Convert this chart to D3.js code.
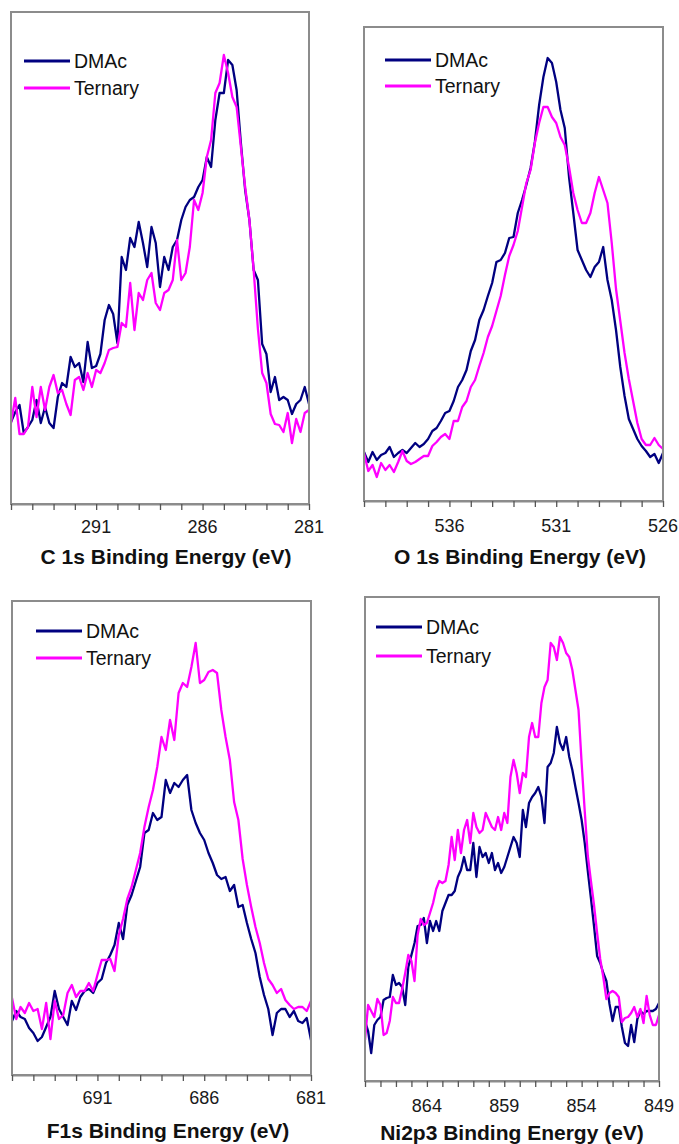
<!DOCTYPE html>
<html>
<head>
<meta charset="utf-8">
<script src="https://cdn.jsdelivr.net/npm/d3@7"></script>
<style>
html, body { margin: 0; padding: 0; background: #ffffff; }
svg { display: block; }
</style>
</head>
<body>
<svg id="chart" width="679" height="1144"></svg>
<script>
// ---------------- DATA ----------------
const seriesNames = ["DMAc", "Ternary"];
const seriesColors = ["#000080", "#ff00ff"];
const stepEV = 0.2; // binding-energy step of the scans (eV)

// C 1s  (295 -> 281 eV)
const c1sStartEV = 295, c1sEndEV = 281;
const c1sTickLabels = [291, 286, 281];
const c1sDMAc = [82, 92, 99, 71, 77, 84, 104, 81, 97, 81,
  76, 107, 121, 117, 147, 137, 141, 122, 162, 136,
  138, 150, 184, 199, 190, 161, 247, 234, 266, 257,
  282, 261, 237, 277, 261, 217, 247, 234, 257, 264,
  284, 297, 304, 307, 317, 324, 347, 337, 384, 411,
  411, 444, 439, 414, 361, 314, 284, 234, 224, 160,
  150, 112, 127, 104, 107, 104, 90, 100, 104, 117, 100];
const c1sTernary = [81, 106, 70, 70, 77, 117, 87, 117, 94, 117,
  129, 111, 114, 100, 89, 124, 127, 114, 131, 117,
  134, 131, 141, 154, 156, 157, 181, 177, 221, 174,
  211, 204, 224, 231, 201, 194, 211, 214, 224, 264,
  224, 231, 257, 304, 294, 311, 347, 364, 411, 421,
  449, 431, 407, 397, 357, 317, 284, 234, 175, 131,
  121, 90, 80, 79, 72, 91, 61, 85, 72, 91, 94];

// O 1s  (540 -> 526 eV)
const o1sStartEV = 540, o1sEndEV = 526;
const o1sTickLabels = [536, 531, 526];
const o1sDMAc = [49, 39, 49, 41, 46, 48, 54, 44, 48, 51,
  48, 53, 58, 54, 57, 62, 70, 73, 80, 88,
  90, 100, 114, 121, 131, 150, 161, 181, 191, 205,
  218, 239, 241, 248, 263, 264, 288, 301, 316, 333,
  359, 396, 424, 443, 438, 419, 391, 373, 324, 288,
  251, 241, 231, 224, 234, 239, 254, 221, 201, 171,
  134, 105, 82, 72, 62, 55, 50, 44, 47, 38, 48];
const o1sTernary = [48, 30, 36, 24, 38, 31, 36, 29, 39, 50,
  40, 37, 39, 42, 45, 45, 55, 59, 64, 67,
  62, 80, 80, 94, 100, 114, 121, 135, 148, 164,
  175, 190, 205, 226, 245, 256, 270, 294, 318, 331,
  358, 378, 394, 394, 384, 378, 364, 356, 334, 308,
  291, 278, 278, 288, 308, 324, 311, 298, 258, 212,
  180, 148, 122, 100, 78, 62, 56, 56, 63, 56, 52];

// F 1s  (695 -> 681 eV)
const f1sStartEV = 695, f1sEndEV = 681;
const f1sTickLabels = [691, 686, 681];
const f1sDMAc = [54, 64, 58, 56, 47, 42, 34, 38, 48, 58,
  84, 66, 58, 50, 74, 65, 78, 84, 86, 82,
  92, 96, 112, 120, 130, 152, 136, 170, 180, 194,
  208, 242, 245, 262, 255, 258, 295, 282, 292, 288,
  295, 300, 265, 252, 242, 235, 222, 212, 200, 196,
  198, 184, 190, 168, 170, 152, 136, 122, 98, 80,
  66, 40, 62, 66, 66, 58, 64, 54, 52, 57, 35];
const f1sTernary = [77, 56, 68, 62, 72, 64, 66, 46, 72, 36,
  74, 56, 60, 82, 90, 78, 84, 84, 92, 84,
  100, 115, 115, 116, 104, 140, 156, 176, 188, 205,
  222, 248, 268, 285, 308, 338, 325, 355, 335, 382,
  392, 388, 408, 432, 392, 395, 403, 405, 402, 365,
  338, 315, 273, 255, 216, 190, 168, 148, 132, 112,
  96, 90, 82, 86, 75, 70, 66, 68, 68, 64, 74];

// Ni 2p3  (868 -> 849 eV)
const ni2pStartEV = 868, ni2pEndEV = 849;
const ni2pTickLabels = [864, 859, 854, 849];
const ni2pDMAc = [60, 50, 28, 56, 61, 64, 81, 83, 84, 106,
  96, 98, 94, 76, 114, 126, 138, 155, 156, 163,
  138, 160, 150, 160, 150, 170, 178, 186, 186, 190,
  204, 211, 224, 211, 211, 238, 204, 234, 224, 228,
  218, 228, 211, 218, 208, 214, 224, 234, 244, 238,
  224, 271, 254, 278, 284, 288, 294, 284, 258, 314,
  318, 328, 354, 338, 331, 344, 324, 311, 294, 278,
  261, 238, 210, 183, 155, 125, 118, 108, 100, 77,
  60, 74, 74, 54, 38, 35, 56, 39, 62, 70,
  67, 70, 70, 70, 72, 78];
const ni2pTernary = [41, 76, 70, 64, 82, 76, 46, 48, 60, 84,
  78, 78, 92, 108, 126, 120, 100, 146, 162, 156,
  158, 168, 178, 192, 200, 198, 200, 216, 244, 221,
  251, 228, 251, 261, 238, 268, 254, 248, 251, 268,
  261, 254, 251, 264, 251, 268, 258, 304, 321, 308,
  288, 308, 304, 344, 358, 344, 344, 378, 394, 401,
  438, 434, 421, 444, 438, 428, 424, 411, 391, 371,
  318, 270, 225, 200, 176, 148, 122, 104, 82, 88,
  90, 88, 84, 59, 63, 64, 68, 74, 64, 72,
  58, 85, 66, 56, 56, 66];

// ---------------- LAYOUT ----------------
const panels = [
  { title: "C 1s Binding Energy (eV)", start: c1sStartEV, end: c1sEndEV, labels: c1sTickLabels,
    series: [c1sDMAc, c1sTernary], yMax: 492,
    box: { l: 11, t: 12, r: 309, b: 504 }, legend: { x: 24, y: 61, gap: 27 },
    titleX: 166, titleY: 564, labelY: 533 },
  { title: "O 1s Binding Energy (eV)", start: o1sStartEV, end: o1sEndEV, labels: o1sTickLabels,
    series: [o1sDMAc, o1sTernary], yMax: 474,
    box: { l: 364, t: 27, r: 663, b: 501 }, legend: { x: 385, y: 60, gap: 26 },
    titleX: 520, titleY: 564, labelY: 532 },
  { title: "F1s Binding Energy (eV)", start: f1sStartEV, end: f1sEndEV, labels: f1sTickLabels,
    series: [f1sDMAc, f1sTernary], yMax: 474,
    box: { l: 12, t: 601, r: 311, b: 1075 }, legend: { x: 36, y: 631, gap: 27 },
    titleX: 168, titleY: 1138, labelY: 1104 },
  { title: "Ni2p3 Binding Energy (eV)", start: ni2pStartEV, end: ni2pEndEV, labels: ni2pTickLabels,
    series: [ni2pDMAc, ni2pTernary], yMax: 484,
    box: { l: 365, t: 597, r: 659, b: 1081 }, legend: { x: 376, y: 627, gap: 29 },
    titleX: 512, titleY: 1140, labelY: 1112 }
];

const FONT = "'Liberation Sans', Arial, Helvetica, sans-serif";
const frameColor = "#8c8c8c";
const svg = d3.select("#chart");
const defs = svg.append("defs");

panels.forEach((p, pi) => {
  const b = p.box;
  const x = d3.scaleLinear().domain([p.start, p.end]).range([b.l, b.r]);
  const y = d3.scaleLinear().domain([0, p.yMax]).range([b.b, b.t]);
  const g = svg.append("g").attr("class", "panel");

  const clipId = "clip" + pi;
  defs.append("clipPath").attr("id", clipId)
    .append("rect").attr("x", b.l).attr("y", b.t)
    .attr("width", b.r - b.l).attr("height", b.b - b.t);

  const line = d3.line().x(d => x(d.e)).y(d => y(d.v));
  p.series.forEach((vals, si) => {
    const data = vals.map((v, i) => ({ e: +(p.start - i * stepEV).toFixed(2), v }));
    g.append("path")
      .datum(data)
      .attr("clip-path", `url(#${clipId})`)
      .attr("fill", "none")
      .attr("stroke", seriesColors[si])
      .attr("stroke-width", 2.3)
      .attr("stroke-linejoin", "round")
      .attr("d", line);
  });

  // frame
  g.append("rect")
    .attr("x", b.l).attr("y", b.t)
    .attr("width", b.r - b.l).attr("height", b.b - b.t)
    .attr("fill", "none").attr("stroke", frameColor).attr("stroke-width", 2);

  // x axis with 1 eV ticks
  const tickVals = d3.range(p.end, p.start + 0.01, 1);
  const axis = d3.axisBottom(x).tickValues(tickVals).tickSize(6).tickSizeOuter(0).tickFormat("");
  const ag = g.append("g").attr("transform", `translate(0,${b.b})`).call(axis);
  ag.select(".domain").attr("stroke", frameColor).attr("stroke-width", 2);
  ag.selectAll(".tick line").attr("stroke", "#555").attr("stroke-width", 1.3);

  // tick labels
  g.append("g").selectAll("text").data(p.labels).join("text")
    .attr("x", d => x(d)).attr("y", p.labelY)
    .attr("text-anchor", "middle")
    .attr("font-family", FONT).attr("font-size", 18).attr("fill", "#1a1a1a")
    .text(d => d);

  // axis title
  g.append("text")
    .attr("x", p.titleX).attr("y", p.titleY)
    .attr("text-anchor", "middle")
    .attr("font-family", FONT).attr("font-size", 21).attr("font-weight", "bold").attr("fill", "#111")
    .text(p.title);

  // legend
  const lg = g.append("g");
  seriesNames.forEach((name, si) => {
    const ly = p.legend.y + si * p.legend.gap;
    lg.append("line")
      .attr("x1", p.legend.x).attr("x2", p.legend.x + 46)
      .attr("y1", ly).attr("y2", ly)
      .attr("stroke", seriesColors[si]).attr("stroke-width", 2.8);
    lg.append("text")
      .attr("x", p.legend.x + 50).attr("y", ly + 7)
      .attr("font-family", FONT).attr("font-size", 19.5).attr("fill", "#111")
      .text(name);
  });
});
</script>
</body>
</html>
